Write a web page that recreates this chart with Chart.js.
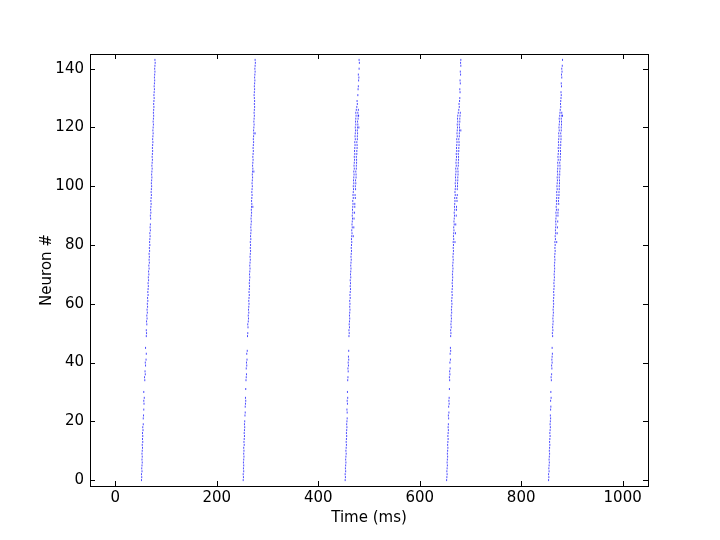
<!DOCTYPE html>
<html lang="en">
<head>
    <meta charset="UTF-8">
    <title>Raster plot</title>
    <script src="https://cdn.jsdelivr.net/npm/chart.js"></script>
    <style>
        html, body { margin: 0; padding: 0; background: #fff; }
        #wrap { width: 720px; height: 540px; }
    </style>
</head>
<body>
<div id="wrap"><canvas id="raster" width="720" height="540"></canvas></div>
<script>
// spike times (ms) per neuron, index = neuron #; null = silent, array = several spikes
const burst1 = [
    51.5, 52, 51.5, 52.5, 52, 52.5, 53, 52.5, 53, 52.5,
    53, 53.5, 53, 54, 53.5, 54, 53.5, 54.5, 54, 55,
    null, 55, 55.5, null, 56, null, 56.5, 56, 57, null,
    56, null, null, null, 58, 57.5, 59, 58.5, null, 59.5,
    59, 60.5, null, 61, null, 59.5, null, null, null, 61,
    61.5, 61, null, 62, 61.5, 62.5, 62, 63, 62.5, 63.5,
    63, 64, 63.5, 64.5, 64, 64.5, 65, 64.5, 65.5, 65,
    66, 65.5, 66.5, 66, 67, 66.5, 67, 66.5, 67.5, 67,
    68, 67.5, 68, 68.5, 68, 69, 68.5, 69, null, 69.5,
    69, 70, 69.5, 70, 70.5, 70, 70.5, 71, 70.5, 71,
    71.5, 71, 71.5, 72, 71.5, 72, 72.5, 72, 72.5, 73,
    72.5, 73, 73.5, 73, 73.5, 74, 73.5, 74, 74.5, 74,
    74.5, 75, 74.5, 75, 75.5, 75, 75.5, 76, 75.5, 76,
    76.5, 76, 76.5, 77, 76.5, 77, 77.5, 77, 77.5, 78,
    77.5, 78, 78.5, 78
];
const burst2 = [
    252, 252.5, 252, 253, 252.5, 253, 252.5, 253, 253.5, 253,
    253.5, 253, 254, 253.5, 254, 254.5, 254, 254.5, 255, 254.5,
    255, null, 255.5, 256, null, 256, 256.5, 257, 256.5, null,
    null, 257, null, null, 257.5, 258, 258.5, null, 258, 259,
    258.5, 259.5, null, 259, 260, null, null, null, null, 260.5,
    261, null, 261.5, 261, 262, 262.5, 262, 263, 262.5, 263,
    263.5, 263, 263.5, 264, 263.5, 264, 264.5, 264, 264.5, 265,
    264.5, 265, 265.5, 265, 265.5, 266, 265.5, 266, 266.5, 266,
    266.5, 266, 267, 266.5, 267, 267.5, 267, 267.5, 268, 267.5,
    268, 268.5, 268, [268.5, 271], 269, 268.5, 269, 269.5, 269, 269.5,
    270, 269.5, 270, 270.5, 270, [270.5, 273], 271, 270.5, 271, 271.5,
    271, 271.5, 272, 271.5, 272, 272.5, 272, 272.5, [273, 275.5], 272.5,
    273, 273.5, 273, 273.5, 274, 273.5, 274, 274.5, 274, 274.5,
    274, 273.5, 274, 274.5, 274, 274.5, 275, 274.5, 275, 275.5,
    275, 275.5, 276, 275.5
];
const burst3 = [
    453, 453.5, 453, 454, 453.5, 454, 454.5, 454, 454.5, 455,
    454.5, 455, 455.5, 455, 455.5, 456, 455.5, 456, 456.5, 456,
    456.5, 457, null, 457, 456.5, null, 457.5, 457, 458, null,
    457.5, null, null, null, 458, 458.5, null, 459, 458.5, 459.5,
    459, 460, 459.5, null, 460, null, null, null, null, 460.5,
    461, 460.5, 461.5, 461, 461.5, 462, 461.5, 462, 462.5, 462,
    462.5, 462, 463, 462.5, 463, 463.5, 463, 463.5, 463, 464,
    463.5, 464, 464.5, 464, 464.5, 465, 464.5, 465, 465.5, 465,
    465.5, 466, 465.5, [466, 469], 466.5, 466, [467, 470], 466.5, 467, [467.5, 470.5],
    467, [468, 471.5], 467.5, [468, 472], [468.5, 472], 468, [469, 473], [468.5, 472.5], 469, [469.5, 473.5],
    [469, 473], [470, 474], [469.5, 473.5], [470, 474.5], [470.5, 474.5], [470, 474], [471, 475], [470.5, 475], [471, 475.5], [471.5, 475.5],
    [471, 475], [472, 476], [471.5, 476], [472, 476.5], [472.5, 476.5], [472, 476], [473, 477], [472.5, 477], [473, 477.5], [473.5, 477],
    [473, 477.5, 480], [474, 478], [473.5, 477.5], [474, 478.5], [474.5, 478.5, 479.5], [474, 478], [475, 479], 476, 477, 476.5,
    null, 478, null, 478.5, 479, null, 479.5, 480, 479, null,
    480.5, null, 481, 480.5
];
const burst4 = [
    653, 653.5, 654, 653.5, 654, 654.5, 654, 654.5, 655, 654.5,
    655, 655.5, 655, 655.5, 656, 655.5, 656, 656.5, 656, 656.5,
    null, 657, 656.5, 657.5, null, 657, 658, 657.5, 658, null,
    null, 658.5, null, null, 659, 658.5, 659.5, 659, 660, null,
    659.5, 660.5, null, 660, 661, 660.5, null, null, null, 661,
    661.5, 661, 662, 661.5, 662, 662.5, 662, 663, 662.5, 663,
    663.5, 663, 663.5, 664, 663.5, 664, 664.5, 664, 664.5, 665,
    664.5, 665, 665.5, 665, 665.5, 666, 665.5, 666, 666.5, 666,
    666.5, [666, 669.5], 667, 666.5, [667, 670.5], 667.5, 667, [668, 671], 667.5, 668,
    [668.5, 672], 668, [669, 672.5], [668.5, 672.5], 669, [669.5, 673.5], [669, 673], [670, 674], 669.5, [670, 674],
    [670.5, 674.5], [670, 674.5], [671, 675], [670.5, 675], [671, 675.5], [671.5, 675.5], [671, 675], [672, 676], [671.5, 676], [672, 676.5],
    [672.5, 676.5], [672, 676], [673, 677], [672.5, 677], [673, 677.5], [673.5, 677.5], [673, 677], [674, 678], [673.5, 678], [674, 678.5, 681],
    [674.5, 678.5], [674, 678], [675, 679], [674.5, 679], [675, 679.5], [676, 680], 677, 678, 677.5, 678.5,
    679, null, 679.5, 679, null, 680, 679.5, null, 680.5, 680,
    null, 681, 680.5, 681
];
const burst5 = [
    854, 854.5, 854, 855, 854.5, 855, 855.5, 855, 855.5, 856,
    855.5, 856, 856.5, 856, 856.5, 857, 856.5, 857, 857.5, 857,
    857.5, 858, 857.5, null, 858, 858.5, null, 858, 859, null,
    858.5, null, null, null, 859.5, 859, 860, null, 860.5, 860,
    861, 860.5, 861, 861.5, null, 861, null, null, null, 862,
    861.5, 862.5, 862, 862.5, 863, 862.5, 863, 863.5, 863, 863.5,
    864, 863.5, 864, 864.5, 864, 864.5, 865, 864.5, 865, 865.5,
    865, 865.5, 866, 865.5, 866, 866.5, 866, 866.5, 867, 866.5,
    867, [866.5, 870], 867.5, 867, [868, 871], 867.5, [868, 871.5], 868.5, [868, 872], 868.5,
    [869, 872.5], [868.5, 872.5], [869.5, 873], 869, [870, 874], [869.5, 873.5], [870, 874], [870.5, 874.5], [870, 874.5], [871, 875],
    [870.5, 875], [871, 875.5], [871.5, 875.5], [871, 875], [872, 876], [871.5, 876], [872, 876.5], [872.5, 876.5], [872, 876], [873, 877],
    [872.5, 877], [873, 877.5], [873.5, 877.5], [873, 877], [874, 878], [873.5, 878], [874, 878.5], [874.5, 878.5], [874, 878], [875, 879],
    [874.5, 879], [875, 879.5], [875.5, 879.5], [875, 879], [876, 880, 881.5], [876.5, 880], 877, 878, 877.5, 878,
    878.5, 879, 878.5, null, 879.5, 879, null, 880, 879.5, 880.5,
    880, 881, null, 881.5
];

const xTicks = [0, 200, 400, 600, 800, 1000];
const yTicks = [0, 20, 40, 60, 80, 100, 120, 140];

// flatten per-neuron times into scatter points
const points = [];
[burst1, burst2, burst3, burst4, burst5].forEach(burst => {
    burst.forEach((t, neuron) => {
        if (t === null) return;
        const times = Array.isArray(t) ? t : [t];
        times.forEach(x => points.push({ x: x, y: neuron }));
    });
});

const labelFont = { family: "'DejaVu Sans', sans-serif", size: 15 };

// matplotlib style frame with inward ticks on all four sides
const framePlugin = {
    id: 'frame',
    afterDraw(chart) {
        const { ctx, chartArea: a, scales } = chart;
        ctx.save();
        ctx.strokeStyle = '#000';
        ctx.lineWidth = 1;
        const len = 5;
        ctx.beginPath();
        xTicks.forEach(v => {
            const px = Math.round(scales.x.getPixelForValue(v)) + 0.5;
            ctx.moveTo(px, a.bottom); ctx.lineTo(px, a.bottom - len);
            ctx.moveTo(px, a.top); ctx.lineTo(px, a.top + len);
        });
        yTicks.forEach(v => {
            const py = Math.round(scales.y.getPixelForValue(v)) + 0.5;
            ctx.moveTo(a.left, py); ctx.lineTo(a.left + len, py);
            ctx.moveTo(a.right, py); ctx.lineTo(a.right - len, py);
        });
        ctx.stroke();
        ctx.strokeRect(Math.round(a.left) + 0.5, Math.round(a.top) + 0.5,
            Math.round(a.right - a.left), Math.round(a.bottom - a.top));
        ctx.restore();
    }
};

new Chart(document.getElementById('raster').getContext('2d'), {
    type: 'scatter',
    data: {
        datasets: [{
            data: points,
            showLine: false,
            pointStyle: 'line',
            rotation: 90,
            pointRadius: 1,
            pointHoverRadius: 1,
            borderWidth: 1,
            borderColor: 'rgba(0, 0, 255, 0.7)',
            backgroundColor: 'rgba(0, 0, 255, 0.7)'
        }]
    },
    options: {
        responsive: false,
        animation: false,
        events: [],
        layout: { padding: { left: 0, top: 54, right: 72, bottom: 0 } },
        plugins: { legend: { display: false }, tooltip: { enabled: false } },
        scales: {
            x: {
                type: 'linear',
                min: -50,
                max: 1050,
                afterBuildTicks: s => { s.ticks = xTicks.map(v => ({ value: v })); },
                afterFit: s => { s.height = 54; },
                grid: { display: false, drawTicks: false },
                border: { display: false },
                ticks: { color: '#000', padding: 3, font: labelFont, callback: v => String(v) },
                title: { display: true, text: 'Time (ms)', color: '#000', padding: { top: 0, bottom: 13 },
                    font: labelFont }
            },
            y: {
                type: 'linear',
                min: -2,
                max: 145,
                afterBuildTicks: s => { s.ticks = yTicks.map(v => ({ value: v })); },
                afterFit: s => { s.width = 90; },
                grid: { display: false, drawTicks: false },
                border: { display: false },
                ticks: { color: '#000', padding: 6, font: labelFont, callback: v => String(v) },
                title: { display: true, text: 'Neuron #', color: '#000', padding: { top: 38, bottom: 0 },
                    font: labelFont }
            }
        }
    },
    plugins: [framePlugin]
});
</script>
</body>
</html>
